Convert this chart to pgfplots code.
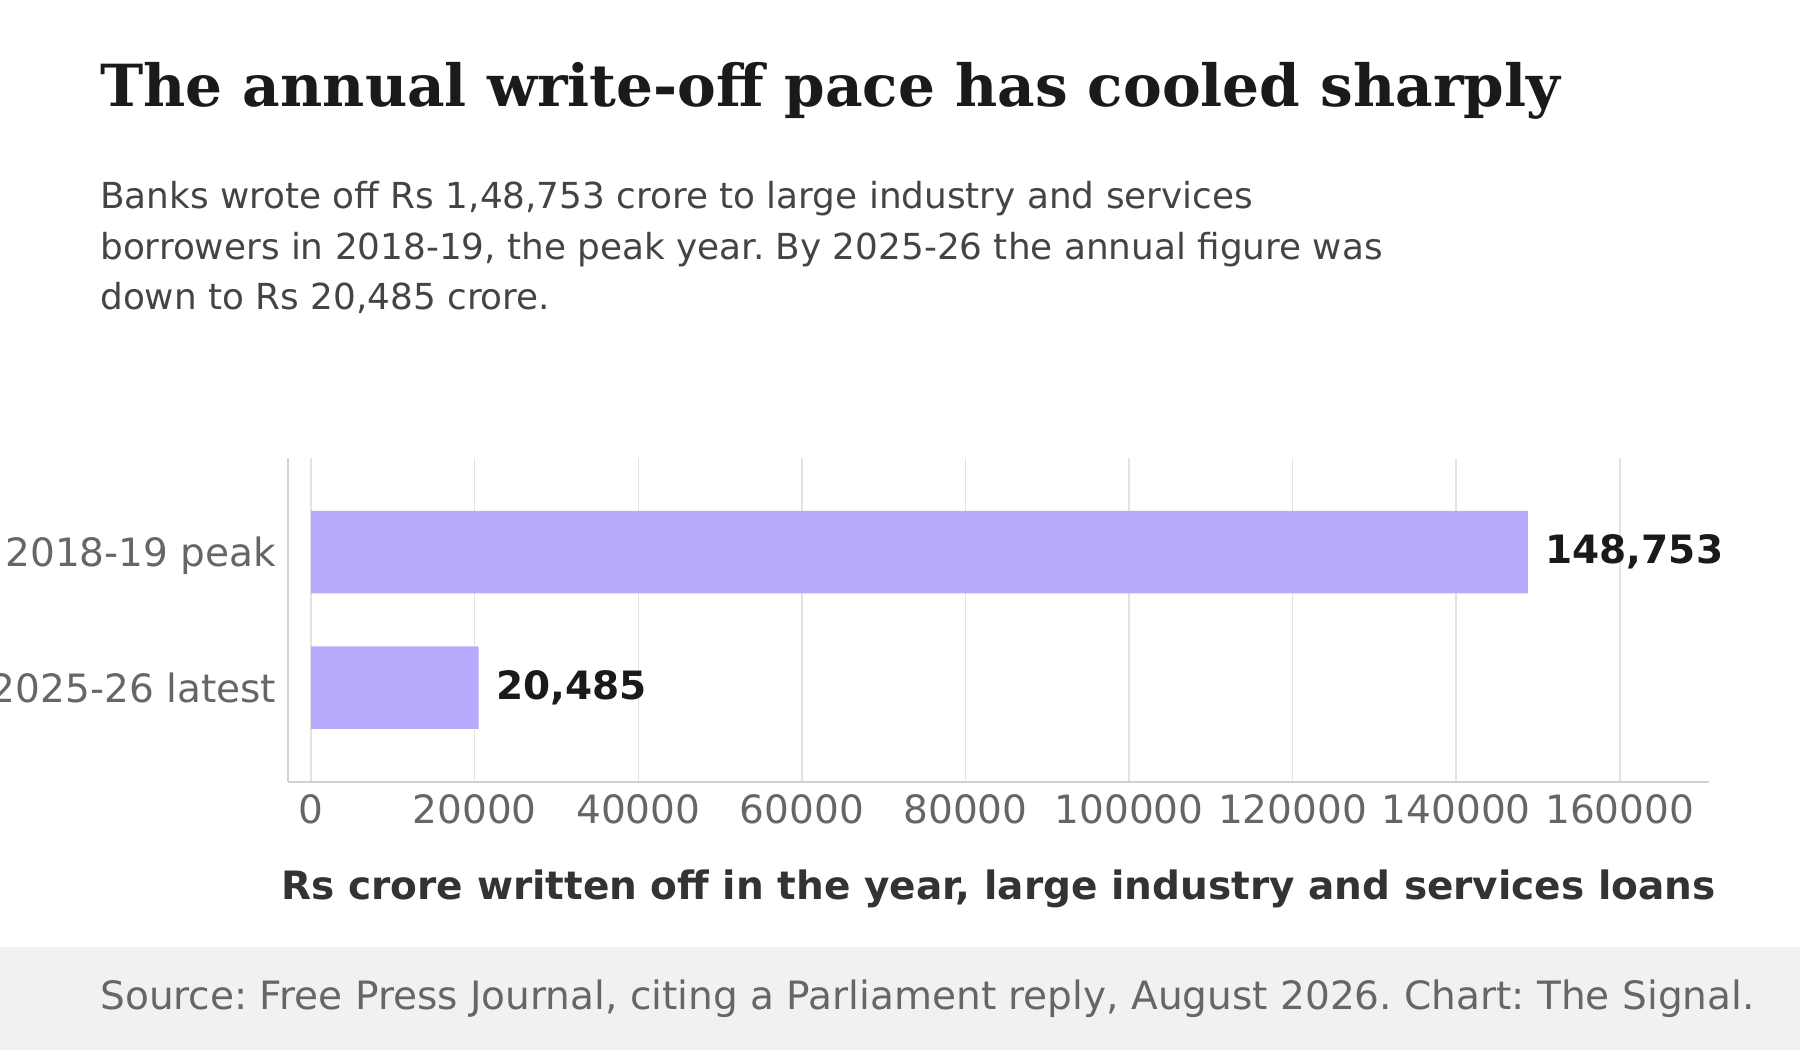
\documentclass[border=0pt]{standalone}
\usepackage{pgfplots}
\pgfplotsset{compat=1.18}
\usepackage{pgfplotstable}
\usepackage{fontspec}
\setmainfont{DejaVu Sans}
\newfontfamily\serifbold{DejaVu Serif}
\frenchspacing
\definecolor{barc}{HTML}{B8A9FC}
\definecolor{titlec}{HTML}{1A1A1A}
\definecolor{subc}{HTML}{444444}
\definecolor{tickc}{HTML}{666666}
\definecolor{xlabc}{HTML}{333333}
\definecolor{gridc}{HTML}{E3E3E0}
\definecolor{spinec}{HTML}{D2D2CC}
\definecolor{footbg}{HTML}{F2F1EF}

\pgfplotstableread{
y x label
1 148753 148,753
0 20485 20,485
}\datatable

\begin{document}
\begin{tikzpicture}
\path[use as bounding box] (0,0) rectangle (784pt,457.5pt);
\fill[footbg] (0,0) rectangle (784pt,45pt);
\node[anchor=base west, inner sep=0pt, text=titlec, font=\serifbold\bfseries\fontsize{25.3}{30}\selectfont] at (43.5pt,411pt) {The annual write-off pace has cooled sharply};
\node[anchor=base west, inner sep=0pt, text=subc, font=\fontsize{15.6}{20}\selectfont] at (43.5pt,366.5pt) {Banks wrote off Rs 1,48,753 crore to large industry and services};
\node[anchor=base west, inner sep=0pt, text=subc, font=\fontsize{15.6}{20}\selectfont] at (43.5pt,344.5pt) {borrowers in 2018-19, the peak year. By 2025-26 the annual figure was};
\node[anchor=base west, inner sep=0pt, text=subc, font=\fontsize{15.6}{20}\selectfont] at (43.5pt,322.5pt) {down to Rs 20,485 crore.};
\node[anchor=base west, inner sep=0pt, text=tickc, font=\fontsize{17}{20}\selectfont] at (43.5pt,18pt) {Source: Free Press Journal, citing a Parliament reply, August 2026. Chart: The Signal.};
\begin{axis}[
  at={(125.5pt,117pt)}, anchor=south west,
  scale only axis, width=619pt, height=141pt,
  xbar, bar width=0.61,
  xmin=-2807, xmax=170947, ymin=-0.695, ymax=1.695,
  axis lines*=left,
  axis line style={draw=spinec, line width=0.7pt},
  xmajorgrids, grid style={draw=gridc, line width=0.65pt},
  xtick={0,20000,40000,60000,80000,100000,120000,140000,160000},
  xticklabels={0,20000,40000,60000,80000,100000,120000,140000,160000},
  scaled x ticks=false,
  ytick={0,1}, yticklabels={2025-26 latest,2018-19 peak},
  major tick length=0pt,
  tick label style={font=\fontsize{17}{20}\selectfont, text=tickc},
  xticklabel style={inner sep=0pt, anchor=north, yshift=-5.5pt},
  yticklabel style={inner sep=0pt, anchor=base east, xshift=-5pt, yshift=-6.3pt},
  xlabel={Rs crore written off in the year, large industry and services loans},
  xlabel style={at={(axis description cs:0.5,0)}, anchor=base, yshift=-51.5pt, inner sep=0pt, font=\bfseries\fontsize{17}{20}\selectfont, text=xlabc},
  clip=false,
  nodes near coords, point meta=explicit symbolic,
  nodes near coords style={anchor=west, inner sep=0pt, xshift=7.5pt, font=\bfseries\fontsize{17}{20}\selectfont, text=titlec},
]
\addplot[fill=barc, draw=none] table[x=x, y=y, meta=label] {\datatable};
\end{axis}
\end{tikzpicture}
\end{document}
